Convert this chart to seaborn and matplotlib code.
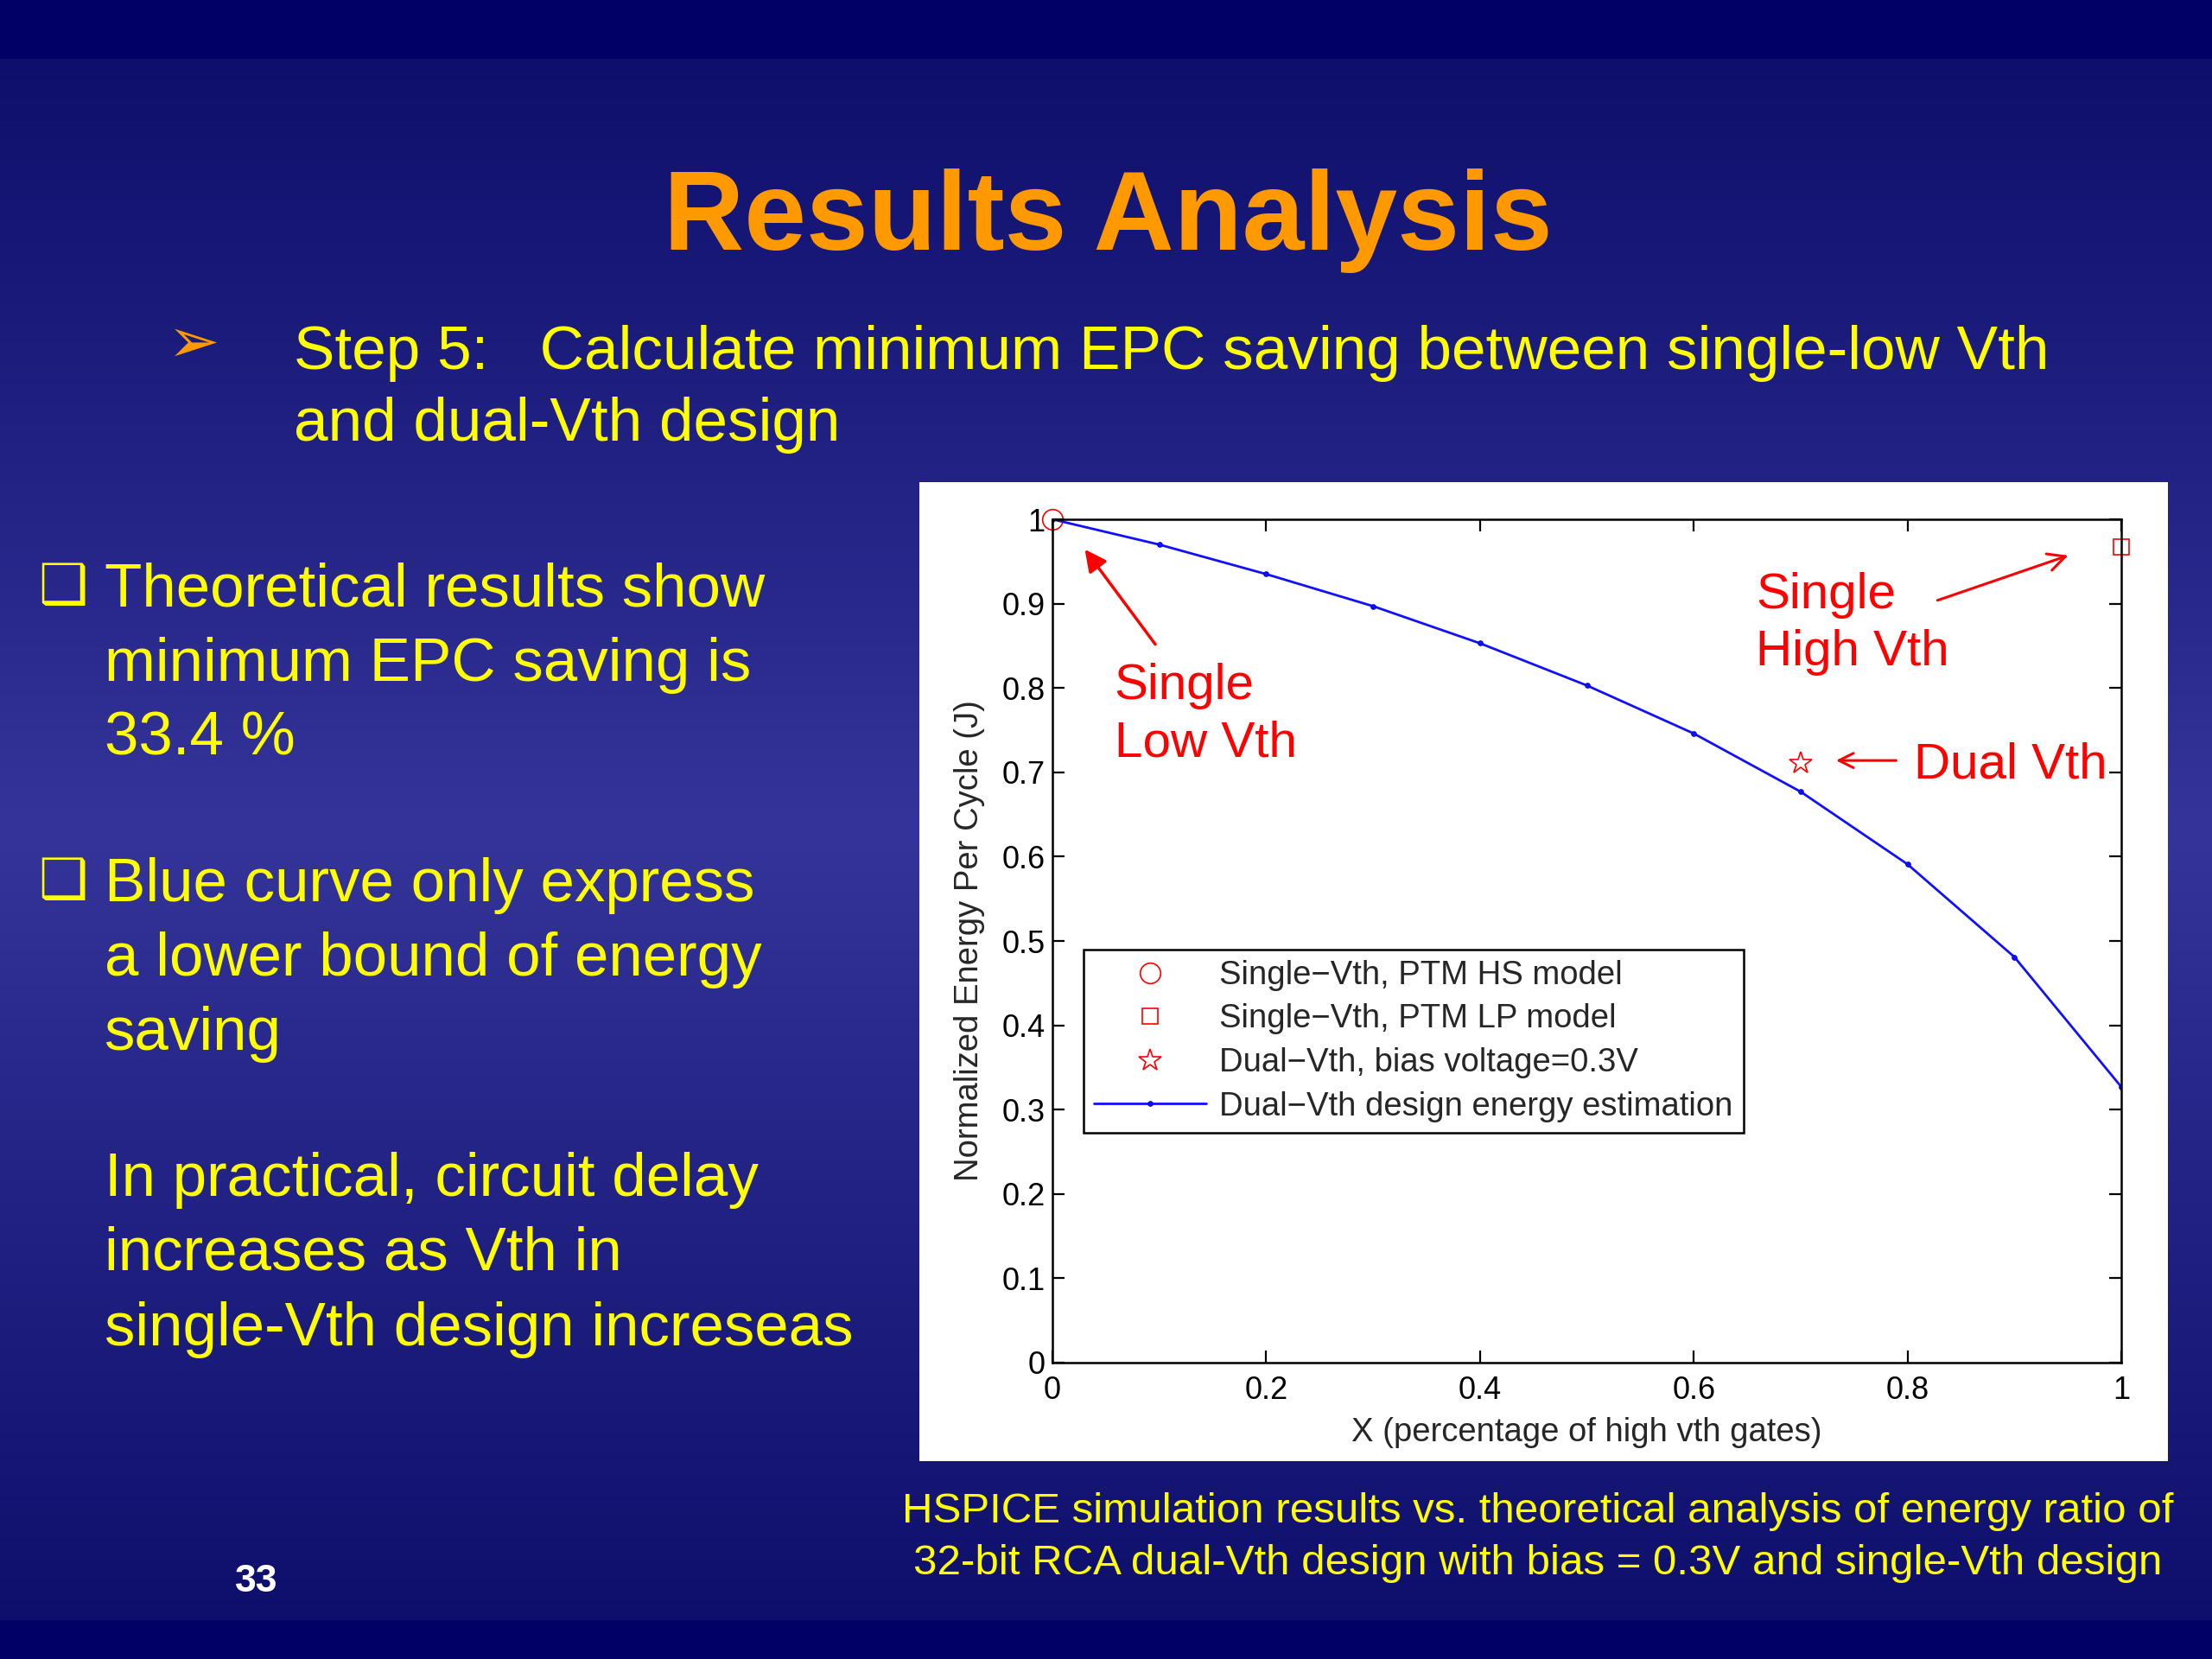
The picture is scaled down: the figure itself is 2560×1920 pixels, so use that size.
import numpy as np
import pandas as pd
import matplotlib
matplotlib.use("Agg")
import matplotlib.pyplot as plt
import seaborn as sns
from matplotlib.patches import Rectangle

# ========= DATA =========
x_frac = [0.0, 0.1, 0.2, 0.3, 0.4, 0.5, 0.6, 0.7, 0.8, 0.9, 1.0]
energy_est = [1.000, 0.970, 0.935, 0.897, 0.853, 0.803, 0.746, 0.677, 0.591, 0.481, 0.327]

hs_x, hs_y = [0.0], [1.0]        # single-Vth, PTM HS model
lp_x, lp_y = [1.0], [0.967]      # single-Vth, PTM LP model
dual_x, dual_y = [0.7], [0.711]  # dual-Vth, bias voltage=0.3V

legend_labels = ["Single\u2212Vth, PTM HS model",
                 "Single\u2212Vth, PTM LP model",
                 "Dual\u2212Vth, bias voltage=0.3V",
                 "Dual\u2212Vth design energy estimation"]

y_ticks = [0, 0.1, 0.2, 0.3, 0.4, 0.5, 0.6, 0.7, 0.8, 0.9, 1]
y_ticklabels = ["0", "0.1", "0.2", "0.3", "0.4", "0.5", "0.6", "0.7", "0.8", "0.9", "1"]
x_ticks = [0, 0.2, 0.4, 0.6, 0.8, 1]
x_ticklabels = ["0", "0.2", "0.4", "0.6", "0.8", "1"]

title = "Results Analysis"
step_lines = ["Step 5:   Calculate minimum EPC saving between single-low Vth",
              "and dual-Vth design"]
left_lines = ["Theoretical results show", "minimum EPC saving is", "33.4 %",
              "Blue curve only express", "a lower bound of energy", "saving",
              "In practical, circuit delay", "increases as Vth in",
              "single-Vth design increseas"]
left_baselines = [702, 788, 874, 1043, 1129, 1215, 1384, 1470, 1557]
bullet_rows = [680, 1021]
caption_lines = ["HSPICE simulation results vs. theoretical analysis of energy ratio of",
                 "32-bit RCA dual-Vth design with bias = 0.3V and single-Vth design"]

# ========= STYLE =========
sns.set_style("ticks")
plt.rcParams["font.family"] = ["Liberation Sans", "DejaVu Sans"]

W, H = 2560, 1920
fig = plt.figure(figsize=(25.6, 19.2), dpi=100)

# ========= SLIDE BACKGROUND =========
rows = np.arange(H)
grad = np.zeros((H, 1, 3))
for c, (edge, mid) in enumerate([(14, 52), (14, 52), (108, 154)]):
    grad[:, 0, c] = np.interp(rows, [68, 960, 1875], [edge, mid, edge])
grad[rows < 68] = [0, 0, 102]
grad[rows >= 1875] = [0, 0, 102]
bg = fig.add_axes([0, 0, 1, 1], zorder=-10)
bg.imshow(grad / 255.0, aspect="auto", extent=[0, 1, 0, 1])
bg.set_axis_off()

def fy(py):
    return 1 - py / H

# title and bullet text
fig.text(0.5008, fy(289), title, ha="center", va="baseline",
         fontsize=93, fontweight="bold", color="#FF9900")
fig.text(224 / W, fy(399), "\u27a2", ha="center", va="center",
         fontsize=52, color="#FF9900", family="DejaVu Sans")
for i, line in enumerate(step_lines):
    fig.text(340 / W, fy(427 + 83 * i), line, ha="left", va="baseline",
             fontsize=51.2, color="#FFFF00")

for row in bullet_rows:
    fig.text(73 / W, fy(row), "\u2751", ha="center", va="center",
             fontsize=46, color="#FFFF00", family="DejaVu Sans")
for line, base in zip(left_lines, left_baselines):
    fig.text(121 / W, fy(base), line, ha="left", va="baseline",
             fontsize=51, color="#FFFF00")

for i, line in enumerate(caption_lines):
    fig.text(1780 / W, fy(1750 + 59 * i), line, ha="center", va="center",
             fontsize=35.5, color="#FFFF00")
fig.text(297 / W, fy(1830), "33", ha="center", va="center",
         fontsize=32, fontweight="bold", color="white")

# white panel behind the chart
fig.add_artist(Rectangle((1064 / W, fy(1691)), (2509 - 1064) / W, (1691 - 558) / H,
                         transform=fig.transFigure, facecolor="white",
                         edgecolor="none", zorder=0))

# ========= CHART =========
ax = fig.add_axes([1218 / W, fy(1577), (2455 - 1218) / W, (1577 - 601) / H], zorder=2)
ax.set_facecolor("white")

df = pd.DataFrame({"x": x_frac, "energy": energy_est})
h_hs, = ax.plot(hs_x, hs_y, "o", ms=17, mfc="none", mec="red", mew=1.2, clip_on=False)
h_lp, = ax.plot(lp_x, lp_y, "s", ms=13, mfc="none", mec="red", mew=1.2, clip_on=False)
h_dual, = ax.plot(dual_x, dual_y, "*", ms=19, mfc="none", mec="red", mew=1.2)
sns.lineplot(data=df, x="x", y="energy", ax=ax, color="#1010ff", lw=2.0,
             marker=".", ms=8, mec="#0000ee")
h_est = ax.lines[-1]

ax.set_xlim(0, 1)
ax.set_ylim(0, 1)
ax.set_xticks(x_ticks)
ax.set_xticklabels(x_ticklabels)
ax.set_yticks(y_ticks)
ax.set_yticklabels(y_ticklabels)
ax.tick_params(direction="in", length=10, width=1.6, labelsize=26,
               top=True, right=True, colors="black")
ax.tick_params(axis="x", pad=11)
ax.tick_params(axis="y", pad=6)
for s in ax.spines.values():
    s.set_visible(True)
    s.set_linewidth(1.8)
    s.set_color("black")

ax.set_xlabel("X (percentage of high vth gates)", fontsize=27.5, labelpad=9)
ax.set_ylabel("Normalized Energy Per Cycle (J)", fontsize=27.5, labelpad=14)

leg = ax.legend([h_hs, h_lp, h_dual, h_est], legend_labels,
                loc="upper left", bbox_to_anchor=(0.029, 0.49), borderaxespad=0,
                fontsize=27.5, frameon=True, fancybox=False, framealpha=1,
                edgecolor="black", handlelength=3.4, handletextpad=0.4,
                labelspacing=0.38, borderpad=0.32)
leg.get_frame().set_linewidth(1.8)

# red callouts
ax.text(0.058, 0.768, "Single\nLow Vth", color="red", fontsize=42,
        ha="left", va="center", linespacing=1.3)
ax.annotate("", xy=(0.029, 0.9666), xytext=(0.0976, 0.8495),
            arrowprops=dict(arrowstyle="-|>", color="red", lw=2.5, mutation_scale=38))
ax.text(0.658, 0.876, "Single\nHigh Vth", color="red", fontsize=42,
        ha="left", va="center", linespacing=1.3)
ax.annotate("", xy=(0.9525, 0.958), xytext=(0.826, 0.903),
            arrowprops=dict(arrowstyle="->", color="red", lw=2.2, mutation_scale=36))
ax.text(0.806, 0.709, "Dual Vth", color="red", fontsize=42, ha="left", va="center")
ax.annotate("", xy=(0.7309, 0.714), xytext=(0.7916, 0.714),
            arrowprops=dict(arrowstyle="->", color="red", lw=2.2, mutation_scale=30))

fig.savefig("out.png", dpi=100)
